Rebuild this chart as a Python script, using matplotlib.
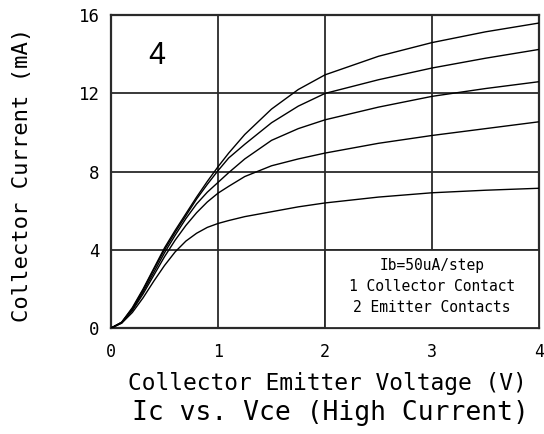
import matplotlib
matplotlib.use('Agg')
import matplotlib.pyplot as plt
from matplotlib.patches import Rectangle

# Ic vs Vce family, five base-current steps
vce = [0, 0.1, 0.2, 0.3, 0.4, 0.5, 0.6, 0.7, 0.8, 0.9, 1.0, 1.1, 1.25, 1.5, 1.75, 2.0, 2.5, 3.0, 3.5, 4.0]
ic_1 = [0, 0.3, 1.05, 2.0, 3.05, 4.1, 5.0, 5.85, 6.7, 7.5, 8.25, 8.95, 9.9, 11.2, 12.2, 12.95, 13.9, 14.6, 15.15, 15.6]
ic_2 = [0, 0.3, 1.0, 1.95, 3.0, 4.0, 4.9, 5.75, 6.6, 7.35, 8.05, 8.7, 9.4, 10.5, 11.35, 12.0, 12.7, 13.3, 13.8, 14.25]
ic_3 = [0, 0.28, 0.95, 1.85, 2.85, 3.85, 4.75, 5.6, 6.35, 6.95, 7.45, 7.95, 8.65, 9.6, 10.2, 10.65, 11.3, 11.85, 12.25, 12.6]
ic_4 = [0, 0.27, 0.9, 1.75, 2.7, 3.65, 4.5, 5.25, 5.9, 6.45, 6.9, 7.25, 7.75, 8.3, 8.65, 8.95, 9.45, 9.85, 10.2, 10.55]
ic_5 = [0, 0.25, 0.8, 1.55, 2.4, 3.2, 3.9, 4.45, 4.85, 5.15, 5.35, 5.5, 5.7, 5.95, 6.2, 6.4, 6.7, 6.92, 7.05, 7.15]
curves = [ic_1, ic_2, ic_3, ic_4, ic_5]

x_ticks = [0, 1, 2, 3, 4]
y_ticks = [0, 4, 8, 12, 16]
note_lines = ['Ib=50uA/step', '1 Collector Contact', '2 Emitter Contacts']

mono = 'DejaVu Sans Mono'
grid_col = '#2a2a2a'

fig = plt.figure(figsize=(5.44, 4.34), dpi=100)
ax = fig.add_axes([0.204, 0.244, 0.787, 0.721])

for ic in curves:
    ax.plot(vce, ic, color='black', linewidth=1.0, zorder=3)

ax.set_xlim(0, 4)
ax.set_ylim(0, 16)
ax.set_xticks(x_ticks)
ax.set_yticks(y_ticks)
ax.grid(True, color=grid_col, linewidth=1.3)
ax.set_axisbelow(True)
for s in ax.spines.values():
    s.set_color(grid_col)
    s.set_linewidth(1.6)
ax.tick_params(axis='x', length=0, pad=11, labelsize=12)
ax.tick_params(axis='y', length=0, pad=8, labelsize=12.5)
for lab in ax.get_xticklabels() + ax.get_yticklabels():
    lab.set_family(mono)

# note box in lower-right cell
ax.add_patch(Rectangle((2, 0), 2, 4, facecolor='white', edgecolor=grid_col,
                       linewidth=1.3, zorder=4))
for i, line in enumerate(note_lines):
    ax.text(3.0, 3.2 - i * 1.08, line, ha='center', va='center',
            family=mono, fontsize=10.5, zorder=5)

ax.text(0.43, 13.9, '4', ha='center', va='center', family='Liberation Sans',
        fontsize=22, zorder=5)

ax.set_xlabel('Collector Emitter Voltage (V)', family=mono, fontsize=16.5)
ax.xaxis.set_label_coords(0.506, -0.141)
ax.set_ylabel('Collector Current (mA)', family=mono, fontsize=16)
ax.yaxis.set_label_coords(-0.185, 0.49)
fig.text(0.607, 0.048, 'Ic vs. Vce (High Current)', ha='center', va='center',
         family=mono, fontsize=19)

fig.savefig('out.png', dpi=100)
